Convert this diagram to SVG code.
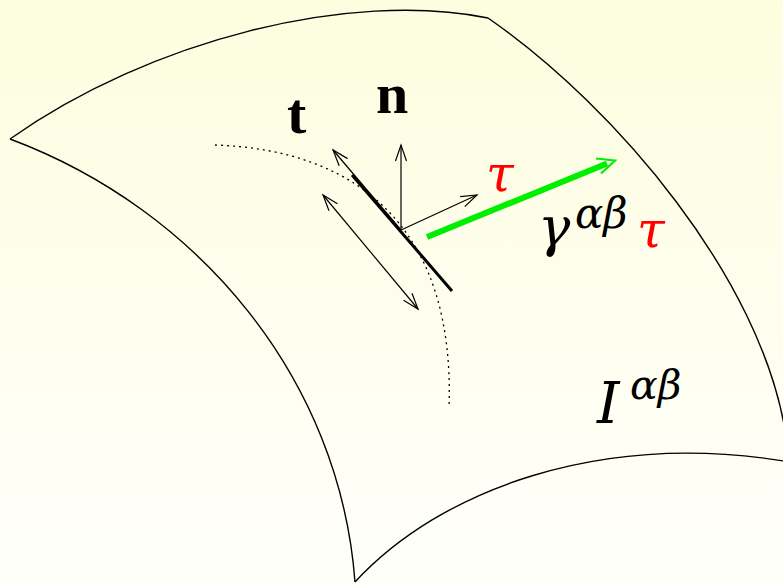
<svg xmlns="http://www.w3.org/2000/svg" width="783" height="585" viewBox="0 0 783 585">
<defs>
<linearGradient id="bg" x1="0" y1="0" x2="0" y2="1">
<stop offset="0" stop-color="#fdfddf"/>
<stop offset="1" stop-color="#fffffb"/>
</linearGradient>
<marker id="ah" viewBox="-18 -8 20 16" markerWidth="20" markerHeight="16" refX="0" refY="0" orient="auto-start-reverse" markerUnits="userSpaceOnUse" overflow="visible">
<path d="M-16,-5.5 L0,0 L-16,5.5" fill="none" stroke="#000" stroke-width="1.2"/>
</marker>
</defs>
<style>
.edge{fill:none;stroke:#000;stroke-width:1.4}
.thin{fill:none;stroke:#000;stroke-width:1.2}
.math{font-family:"DejaVu Serif","Liberation Serif",serif;font-style:italic}
.bold{font-family:"Liberation Serif","DejaVu Serif",serif;font-weight:bold}
.red{fill:#ff0000}
</style>
<rect x="0" y="0" width="783" height="585" fill="url(#bg)"/>
<g id="surface">
<path class="edge" d="M10,139 C150,40 350,-10 488,18"/>
<path class="edge" d="M488,18 C620,110 760,280 785,430"/>
<path class="edge" d="M355,582 C440,490 600,430 790,462"/>
<path class="edge" d="M10,139 C200,210 340,380 355,582"/>
<path fill="none" stroke="#000" stroke-width="1.3" stroke-dasharray="2 4" d="M215,145 C360,150 455,230 449,407"/>
</g>
<g id="connectors">
<line class="thin" x1="401" y1="230" x2="333" y2="150" marker-end="url(#ah)"/>
<line x1="352" y1="175" x2="452" y2="291" stroke="#000" stroke-width="3"/>
<line class="thin" x1="401" y1="230" x2="401" y2="145" marker-end="url(#ah)"/>
<line class="thin" x1="401" y1="230" x2="477" y2="195" marker-end="url(#ah)"/>
<line class="thin" x1="323" y1="195" x2="418" y2="309" marker-start="url(#ah)" marker-end="url(#ah)"/>
<line x1="427" y1="237" x2="607" y2="163.5" stroke="#00ee00" stroke-width="6"/>
<path d="M596,158.5 L615,160.5 L601,173.5" fill="none" stroke="#00ee00" stroke-width="2.2" stroke-linejoin="miter"/>
</g>
<g id="labels">
<text class="bold" x="376" y="113" font-size="58">n</text>
<text class="bold" x="287" y="133" font-size="58">t</text>
<text class="math red" x="486" y="191" font-size="50">τ</text>
<text class="math" x="538" y="246" font-size="54">γ</text>
<text class="math" x="575" y="228" font-size="42">αβ</text>
<text class="math red" x="637" y="247" font-size="50">τ</text>
<text class="math" x="597" y="423" font-size="57">I</text>
<text class="math" x="630" y="399" font-size="41">αβ</text>
</g>
</svg>
